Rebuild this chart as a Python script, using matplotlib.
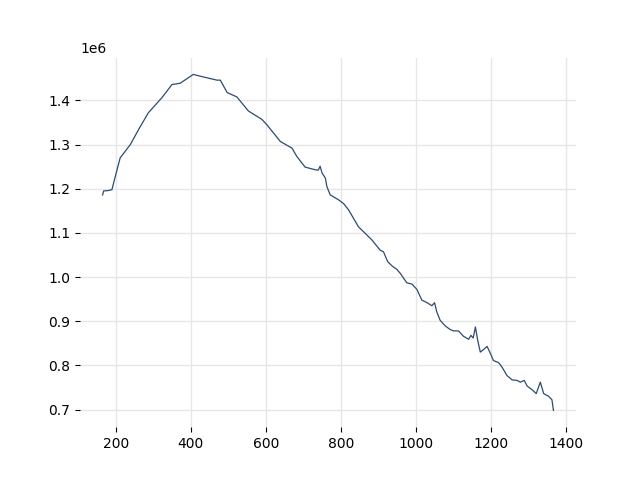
import matplotlib
matplotlib.use('Agg')
import matplotlib.pyplot as plt

# traced points of the curve (x, y in 1e6 units)
x = [165, 168, 180, 190, 199, 212, 239, 261, 287, 323, 350, 372, 407, 425,
     470, 479, 497, 523, 554, 590, 603, 639, 670, 683, 705, 732, 740, 745,
     750, 759, 763, 772, 794, 808, 821, 834, 847, 870, 883, 905, 914, 925,
     937, 950, 959, 976, 990, 1003, 1016, 1030, 1043, 1050, 1056, 1065,
     1079, 1092, 1101, 1114, 1127, 1141, 1147, 1153, 1159, 1165, 1172, 1181,
     1190, 1199, 1207, 1221, 1230, 1243, 1257, 1270, 1279, 1289, 1297, 1310,
     1321, 1332, 1341, 1354, 1363, 1367]
y = [1.186, 1.195, 1.196, 1.198, 1.228, 1.270, 1.300, 1.334, 1.372, 1.406,
     1.436, 1.439, 1.459, 1.455, 1.446, 1.446, 1.418, 1.408, 1.376, 1.357,
     1.345, 1.307, 1.292, 1.273, 1.249, 1.243, 1.242, 1.251, 1.236, 1.224,
     1.205, 1.186, 1.175, 1.166, 1.152, 1.133, 1.114, 1.095, 1.084, 1.061,
     1.057, 1.035, 1.025, 1.017, 1.008, 0.987, 0.984, 0.972, 0.948, 0.942,
     0.935, 0.942, 0.921, 0.902, 0.889, 0.881, 0.878, 0.878, 0.866, 0.859,
     0.868, 0.862, 0.887, 0.857, 0.830, 0.836, 0.843, 0.827, 0.811, 0.806,
     0.796, 0.777, 0.767, 0.766, 0.762, 0.766, 0.753, 0.745, 0.736, 0.762,
     0.736, 0.730, 0.722, 0.698]
y = [v * 1e6 for v in y]

fig, ax = plt.subplots(figsize=(6.4, 4.8), dpi=100)
ax.plot(x, y, color='#2d4b6e', linewidth=0.9)

ax.grid(True, color='#e6e6e6', linewidth=1)
ax.set_axisbelow(True)
for s in ax.spines.values():
    s.set_visible(False)

fig.savefig('out.png')
